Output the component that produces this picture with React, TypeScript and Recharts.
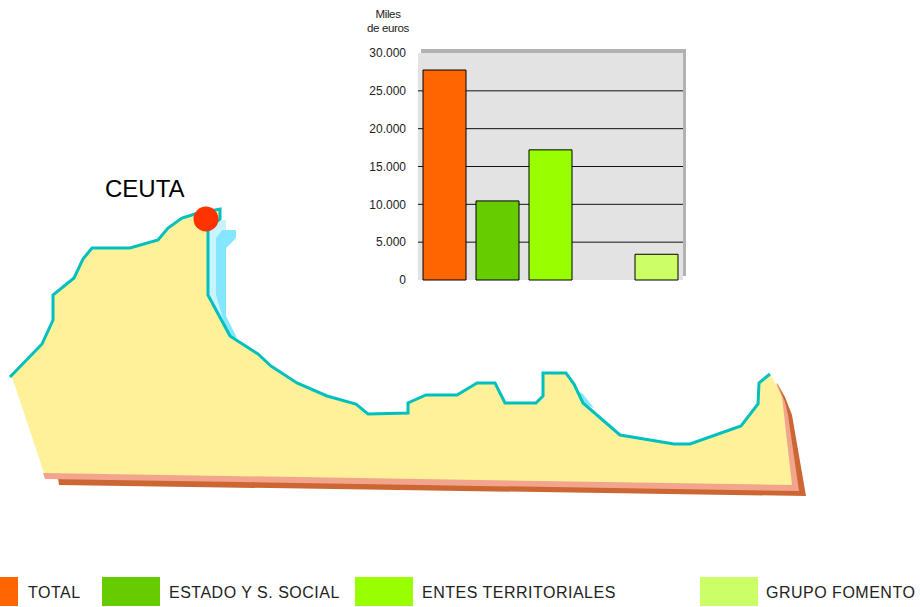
import React from "react";
import {
  Area,
  Bar,
  BarChart,
  CartesianGrid,
  Cell,
  ComposedChart,
  Line,
  ReferenceArea,
  XAxis,
  YAxis,
} from "recharts";

const W = 920;
const H = 607;
const FONT = "'Liberation Sans', Arial, sans-serif";

// Bar chart data (miles de euros)
const categories = ["TOTAL", "ESTADO Y S. SOCIAL", "ENTES TERRITORIALES", "", "GRUPO FOMENTO"];
const values = [27750, 10450, 17200, 0, 3400];
const barColors = ["#FF6600", "#66CC00", "#99FF00", "#FFFFFF", "#CCFF66"];
const yTicks = [0, 5000, 10000, 15000, 20000, 25000, 30000];
const gridValues = [5000, 10000, 15000, 20000, 25000];
const yTickLabels = ["0", "5.000", "10.000", "15.000", "20.000", "25.000", "30.000"];
const unitLines = ["Miles", "de euros"];

// Legend
const legendNames = ["TOTAL", "ESTADO Y S. SOCIAL", "ENTES TERRITORIALES", "GRUPO FOMENTO"];
const legendColors = ["#FF6600", "#66CC00", "#99FF00", "#CCFF66"];

// Map outlines, in picture units
type Pt = [number, number];
const coast: Pt[] = [
  [10, 377], [42, 344], [53, 320], [53, 295], [74, 278], [83, 259], [92, 248], [130, 248],
  [158, 240], [168, 228], [182, 218], [195, 214], [220, 209], [220, 219], [208, 228],
  [208, 295], [230, 336], [258, 354], [271, 366], [297, 383], [327, 396], [356, 404],
  [368, 414], [408, 413], [408, 403], [426, 395], [457, 395], [477, 383], [495, 383],
  [505, 403], [536, 403], [543, 396], [543, 373], [566, 373], [574, 384], [583, 403],
  [620, 435], [674, 444], [690, 444], [741, 426], [758, 404], [759, 383], [770, 374],
];
const landEdge: Pt[] = [[777, 386], [782, 397], [792, 485], [44, 473], [12, 377]];
const salmon: Pt[] = [[43, 473], [45, 479], [799, 491], [788, 415], [785, 402], [777, 383], [770, 470], [400, 470], [43, 473]];
const dark: Pt[] = [[58, 478], [59, 485], [806, 496], [792, 415], [785, 397], [777, 383], [770, 470], [400, 475], [58, 478]];
const pale: Pt[] = [[208, 220], [226, 220], [226, 230], [222, 230], [216, 238], [216, 295], [229, 334], [208, 295], [208, 220]];
const blue: Pt[] = [[222, 230], [236, 230], [236, 238], [226, 248], [226, 316], [237, 338], [228, 336], [216, 295], [216, 238], [222, 230]];
const blueSmall: Pt[] = [[578, 392], [582, 393], [594, 408], [584, 404], [578, 392]];
const marker: Pt[] = [[206, 219]];

const toRows = (pts: Pt[]) => pts.map(([x, y]) => ({ x, y }));
const land: Pt[] = [...coast, ...landEdge, coast[0]];

const barRows = categories.map((name, i) => ({ name: name || "-", value: values[i] }));

function polygon(id: string, pts: Pt[], fill: string) {
  return (
    <Area
      key={id}
      data={toRows(pts)}
      dataKey="y"
      type="linear"
      baseValue={pts[0][1]}
      stroke="none"
      fill={fill}
      fillOpacity={1}
      dot={false}
      activeDot={false}
      legendType="none"
      isAnimationActive={false}
    />
  );
}

export default function App() {
  return (
    <div style={{ position: "absolute", left: 0, top: 0, width: W, height: H, overflow: "hidden", background: "#fff", fontFamily: FONT }}>
      <div style={{ position: "absolute", left: 0, top: 0 }}>
        <ComposedChart width={W} height={H} margin={{ top: 0, right: 0, bottom: 0, left: 0 }}>
          <XAxis type="number" dataKey="x" domain={[0, W]} hide />
          <YAxis type="number" domain={[0, H]} reversed hide />
          <ReferenceArea x1={421} x2={686} y1={49} y2={276} fill="#B2B2B2" fillOpacity={1} stroke="none" />
          {polygon("dark", dark, "#CC6633")}
          {polygon("salmon", salmon, "#F2A58C")}
          {polygon("pale", pale, "#C9F4FF")}
          {polygon("blue", blue, "#84E6FF")}
          {polygon("blueSmall", blueSmall, "#84E6FF")}
          {polygon("land", land, "#FFF199")}
          <Line data={toRows(coast)} dataKey="y" type="linear" stroke="#00BFBF" strokeWidth={3} dot={false} activeDot={false} isAnimationActive={false} />
          <Line data={toRows(marker)} dataKey="y" type="linear" stroke="none" dot={{ r: 12.5, fill: "#FF3300", stroke: "none" }} activeDot={false} isAnimationActive={false} />
        </ComposedChart>
      </div>

      <div style={{ position: "absolute", left: 0, top: 0 }}>
        <BarChart
          width={W}
          height={H}
          data={barRows}
          margin={{ top: 53, right: W - 683, bottom: H - 280, left: 358 }}
          barCategoryGap={10}
        >
          <CartesianGrid vertical={false} stroke="#111" fill="#E3E3E3" horizontalValues={gridValues} />
          <XAxis dataKey="name" tick={false} tickLine={false} height={0} axisLine={{ stroke: "#222", strokeWidth: 1.5 }} />
          <YAxis
            width={60}
            domain={[0, 30000]}
            ticks={yTicks}
            interval={0}
            tickSize={0}
            tickMargin={12}
            axisLine={false}
            tickLine={false}
            tickFormatter={(v: number) => yTickLabels[yTicks.indexOf(v)]}
            tick={{ fontFamily: FONT, fontSize: 12, fill: "#222" }}
          />
          <Bar dataKey="value" barSize={43} stroke="#000" strokeWidth={1} isAnimationActive={false}>
            {barRows.map((r, i) => (
              <Cell key={r.name} fill={barColors[i]} stroke={values[i] ? "#000" : "none"} />
            ))}
          </Bar>
        </BarChart>
      </div>

      {unitLines.map((t, i) => (
        <div key={t} style={{ position: "absolute", left: 338, width: 100, top: 8 + i * 14, textAlign: "center", fontSize: 11.5, lineHeight: "13px", letterSpacing: -0.35, color: "#222" }}>
          {t}
        </div>
      ))}

      <div style={{ position: "absolute", left: 105, top: 175, fontSize: 24, lineHeight: "27px", color: "#000" }}>CEUTA</div>

      {legendNames.map((name, i) => {
        const swatchLeft = [-40, 102, 355, 700][i];
        const swatchWidth = 58;
        const textLeft = [28, 169, 422, 766][i];
        return (
          <React.Fragment key={name}>
            <div style={{ position: "absolute", left: swatchLeft, top: 577, width: swatchWidth, height: 29, background: legendColors[i] }} />
            <div style={{ position: "absolute", left: textLeft, top: 584, fontSize: 16, lineHeight: "18px", letterSpacing: 0.5, color: "#222", whiteSpace: "nowrap" }}>{name}</div>
          </React.Fragment>
        );
      })}
    </div>
  );
}
